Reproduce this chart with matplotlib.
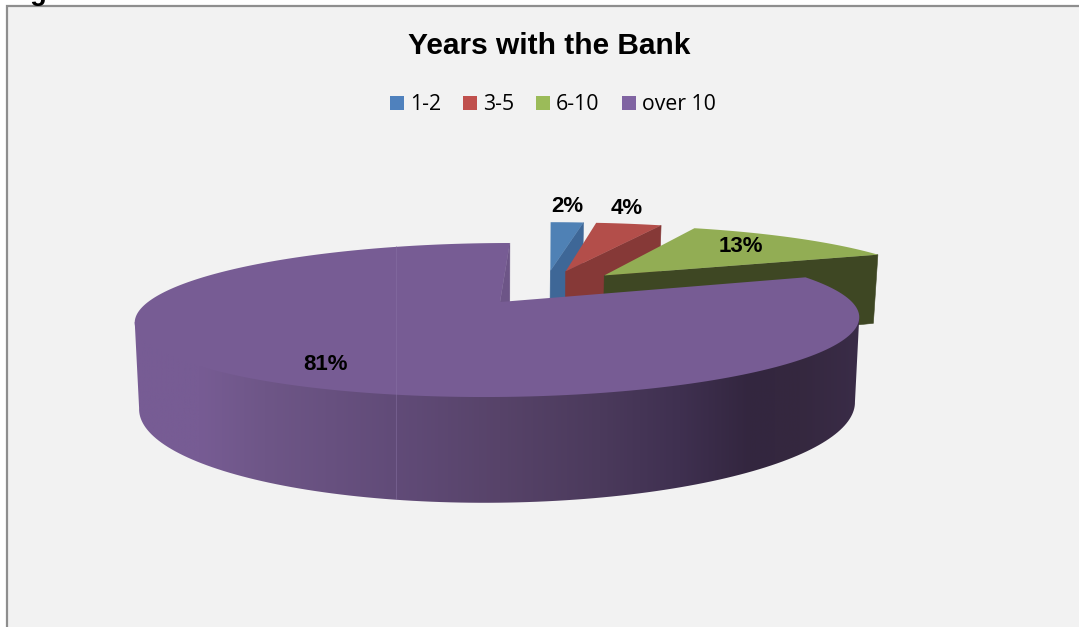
import numpy as np
import matplotlib
matplotlib.use("Agg")
import matplotlib.pyplot as plt
from matplotlib.colors import LinearSegmentedColormap
from matplotlib.patches import Polygon, Rectangle

# Share of respondents by years with the bank
categories = ["1-2", "3-5", "6-10", "over 10"]
shares = [2, 4, 13, 81]
percent_labels = ["2%", "4%", "13%", "81%"]

top_colors = ["#4f81b5", "#b34e4a", "#92ad54", "#775c94"]
side_colors = ["#3e6797", "#863937", "#3e4723", "#6d5587"]
legend_colors = ["#4f81bd", "#c0504d", "#9bbb59", "#8064a2"]

W, H = 1079, 627
fig = plt.figure(figsize=(W / 100, H / 100), dpi=100, facecolor="white")
ax = fig.add_axes([0, 0, 1, 1])

# Chart frame, running off the right and bottom edges
ax.add_patch(Rectangle((7, 6), W + 20, H + 20, facecolor="#f2f2f2",
                       edgecolor="#8e8e8e", linewidth=1.6, zorder=0))
ax.text(6, 0.5, "Figure 5.5: Years with the Bank", family="Liberation Sans",
        weight="bold", fontsize=19.5, va="baseline", ha="left", color="black", zorder=1)

# Perspective projection of the pie plane
CX, CY = 500.0, 302.0
A, B, K = 352.0, 72.8, 0.234
VX = 552.0
DEPTH = 81.0
TAPER = 0.012
EXPLODE = 0.26
GROUP_SHIFT = -0.02


def project(u, v, z=0.0):
    u, v = np.asarray(u, float), np.asarray(v, float)
    p = 1.0 / (1.0 - K * v)
    x = CX + A * u * p + K * v * p * (CX - VX)
    y = CY + B * v * p
    if z:
        x = x + (CX - x) * TAPER * z
        y = y + DEPTH * p * z
    return np.column_stack([x, y])


def rim(a0, a1, apex, n=240):
    t = np.radians(np.linspace(a0, a1, n))
    return apex[0] + np.sin(t), apex[1] - np.cos(t)


def direction(angle):
    return np.array([np.sin(np.radians(angle)), -np.cos(np.radians(angle))])


edges = 360 * np.cumsum([0] + shares) / np.sum(shares)
mids = (edges[:-1] + edges[1:]) / 2
apexes = [EXPLODE * (direction(m) - direction(mids[-1])) for m in mids]
# The small slices sit slightly left of their exploded position
apexes = [a + np.array([GROUP_SHIFT, 0.0]) for a in apexes[:-1]] + [apexes[-1]]

for i in range(len(shares)):
    a0, a1 = edges[i], edges[i + 1]
    apex = apexes[i]

    if i < 3:
        # Radial side facing the viewer, toward the end of the slice
        end = direction(a1)
        su = np.array([apex[0], apex[0] + end[0]])
        sv = np.array([apex[1], apex[1] + end[1]])
    else:
        # The large slice shows its side along the notch at twelve o'clock
        su = np.array([apex[0], apex[0]])
        sv = np.array([apex[1], apex[1] - 1])
    side = np.vstack([project(su, sv), project(su, sv, 1.0)[::-1]])
    ax.add_patch(Polygon(side, closed=True, facecolor=side_colors[i],
                         edgecolor=side_colors[i], linewidth=0.4, zorder=2 + i))

    ru, rv = rim(a0, a1, apex)
    top_rim = project(ru, rv)

    if i == 3:
        # Outer wall: a left-to-right shade clipped to the front silhouette.
        # Its upper edge tucks under the top face so no seam shows along the rim.
        right_end, left_end = np.argmax(top_rim[:, 0]), np.argmin(top_rim[:, 0])
        front_u, front_v = ru[right_end:left_end + 1], rv[right_end:left_end + 1]
        tuck = 1 - 0.04 * np.sin(np.linspace(0, np.pi, front_u.size)) ** 0.5
        inner_u = apex[0] + (front_u - apex[0]) * tuck
        inner_v = apex[1] + (front_v - apex[1]) * tuck
        wall = np.vstack([project(inner_u, inner_v), project(front_u, front_v, 1.0)[::-1]])
        wall_patch = Polygon(wall, closed=True, facecolor="none", edgecolor="none",
                             transform=ax.transData)
        ax.add_patch(wall_patch)
        shade_x = [130, 200, 265, 396, 500, 600, 680, 750, 800, 862]
        shade_c = ["#775c94", "#775c94", "#6e5687", "#614b78", "#574369",
                   "#4b3a5c", "#3f3050", "#33263f", "#35283f", "#3a2c48"]
        pos = [(x - shade_x[0]) / (shade_x[-1] - shade_x[0]) for x in shade_x]
        cmap = LinearSegmentedColormap.from_list("wall", list(zip(pos, shade_c)), N=1024)
        gradient = np.linspace(0, 1, 1024).reshape(1, -1)
        image = ax.imshow(gradient, cmap=cmap, aspect="auto", zorder=5,
                          extent=[shade_x[0], shade_x[-1], 520, 260])
        image.set_clip_path(wall_patch)

    face = np.vstack([project(apex[0], apex[1]), top_rim])
    ax.add_patch(Polygon(face, closed=True, facecolor=top_colors[i],
                         edgecolor="none", zorder=6 + i * 0.1))

ax.set_xlim(0, W)
ax.set_ylim(H, 0)
ax.axis("off")

# Faint seam across the large slice
ax.plot([396, 396], [246, 499], color="#8a74a6", linewidth=0.6, alpha=0.55, zorder=8)

# Title and legend
ax.text(549, 45.5, "Years with the Bank", family="Liberation Sans", weight="bold",
        fontsize=21.5, ha="center", va="center", color="black", zorder=9)
legend_x = [390, 463, 536, 622]
for x, name, color in zip(legend_x, categories, legend_colors):
    ax.add_patch(Rectangle((x, 96), 14, 14, facecolor=color, edgecolor="none", zorder=9))
    ax.text(x + 20, 105, name, family="Open Sans", fontsize=15.3, ha="left",
            va="center", color="black", zorder=9)

# Percentage labels
label_xy = [(567, 206), (627, 208), (741, 247), (325, 364)]
for (x, y), text in zip(label_xy, percent_labels):
    ax.text(x, y, text, family="Liberation Sans", weight="bold", fontsize=16,
            ha="center", va="center", color="black", zorder=9)

fig.savefig("out.png", dpi=100, facecolor=fig.get_facecolor())
